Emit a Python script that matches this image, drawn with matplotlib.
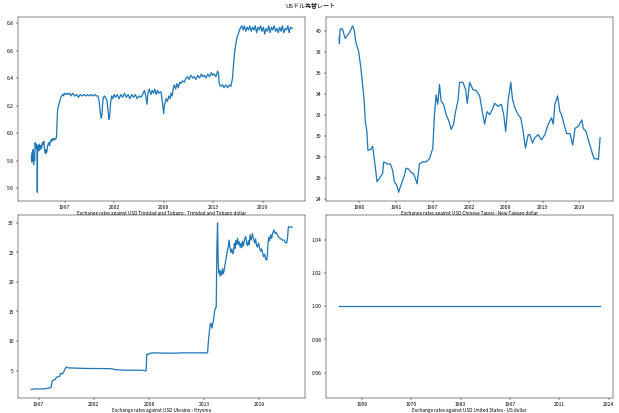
import numpy as np
import pandas as pd
import matplotlib
matplotlib.use("Agg")
import matplotlib.pyplot as plt
import matplotlib.dates as mdates
from matplotlib.ticker import MaxNLocator

plt.rcParams['font.family'] = ['Noto Sans CJK JP', 'DejaVu Sans']

# Trinidad and Tobago dollar (decimal year, rate)
tt_year = [1993.70, 1993.75, 1993.80, 1993.85, 1993.90, 1993.95, 1994.00, 1994.07, 1994.12, 1994.20,
           1994.28, 1994.33, 1994.36, 1994.39, 1994.45, 1994.52, 1994.60, 1994.68, 1994.76, 1994.84,
           1994.92, 1995.00, 1995.08, 1995.16, 1995.24, 1995.32, 1995.40, 1995.48, 1995.56, 1995.64,
           1995.72, 1995.80, 1995.88, 1995.96, 1996.04, 1996.12, 1996.20, 1996.28, 1996.36, 1996.44,
           1996.50, 1996.55, 1996.60, 1996.66, 1996.72, 1996.80, 1996.88, 1996.96, 1997.05, 1997.15,
           1997.25, 1997.35, 1997.50, 1997.65, 1997.80, 1997.95, 1998.10, 1998.30, 1998.50, 1998.70,
           1998.90, 1999.10, 1999.30, 1999.50, 1999.70, 1999.90, 2000.10, 2000.30, 2000.50, 2000.70,
           2000.90, 2001.05, 2001.20, 2001.32, 2001.42, 2001.50, 2001.58, 2001.66, 2001.80, 2001.95,
           2002.05, 2002.15, 2002.28, 2002.36, 2002.46, 2002.58, 2002.70, 2002.85, 2003.00, 2003.20,
           2003.40, 2003.60, 2003.80, 2004.00, 2004.20, 2004.40, 2004.60, 2004.80, 2005.00, 2005.20,
           2005.40, 2005.60, 2005.83, 2006.00, 2006.20, 2006.35, 2006.49, 2006.60, 2006.75, 2006.90,
           2007.05, 2007.20, 2007.35, 2007.50, 2007.65, 2007.80, 2008.04, 2008.20, 2008.33, 2008.40,
           2008.59, 2008.75, 2008.90, 2009.05, 2009.14, 2009.25, 2009.40, 2009.51, 2009.65, 2009.80,
           2009.95, 2010.10, 2010.24, 2010.40, 2010.60, 2010.80, 2010.98, 2011.15, 2011.35, 2011.55,
           2011.71, 2011.90, 2012.10, 2012.30, 2012.50, 2012.65, 2012.82, 2013.00, 2013.20, 2013.40,
           2013.60, 2013.75, 2013.92, 2014.10, 2014.29, 2014.40, 2014.47, 2014.60, 2014.84, 2015.00,
           2015.20, 2015.40, 2015.60, 2015.76, 2015.94, 2016.05, 2016.12, 2016.20, 2016.31, 2016.45,
           2016.57, 2016.78, 2016.95, 2017.10, 2017.25, 2017.40, 2017.55, 2017.70, 2017.85, 2018.00,
           2018.15, 2018.30, 2018.45, 2018.60, 2018.75, 2018.90, 2019.05, 2019.20, 2019.35, 2019.50,
           2019.65, 2019.80, 2019.95, 2020.10, 2020.25, 2020.40, 2020.55, 2020.70, 2020.85, 2021.00,
           2021.15, 2021.30, 2021.45, 2021.60, 2021.75, 2021.90, 2022.05, 2022.20, 2022.35, 2022.55]
tt_rate = [5.83, 5.79, 5.86, 5.80, 5.88, 5.77, 5.84, 5.80, 5.93, 5.89,
           5.92, 5.87, 5.57, 5.88, 5.91, 5.87, 5.92, 5.88, 5.91, 5.89,
           5.93, 5.92, 5.94, 5.88, 5.85, 5.88, 5.86, 5.90, 5.92, 5.93,
           5.91, 5.94, 5.95, 5.94, 5.96, 5.95, 5.96, 5.95, 5.96, 5.96,
           5.99, 6.10, 6.16, 6.19, 6.20, 6.22, 6.24, 6.26, 6.27, 6.28,
           6.27, 6.29, 6.28, 6.29, 6.28, 6.29, 6.27, 6.29, 6.27, 6.28,
           6.26, 6.28, 6.27, 6.28, 6.27, 6.28, 6.27, 6.28, 6.27, 6.28,
           6.27, 6.27, 6.23, 6.15, 6.11, 6.13, 6.21, 6.26, 6.27, 6.25,
           6.24, 6.18, 6.10, 6.12, 6.22, 6.27, 6.25, 6.28, 6.26, 6.28,
           6.25, 6.28, 6.26, 6.29, 6.26, 6.28, 6.25, 6.28, 6.26, 6.28,
           6.25, 6.27, 6.26, 6.28, 6.31, 6.27, 6.21, 6.30, 6.32, 6.28,
           6.31, 6.29, 6.32, 6.28, 6.31, 6.29, 6.30, 6.22, 6.14, 6.20,
           6.25, 6.23, 6.27, 6.25, 6.29, 6.27, 6.33, 6.35, 6.32, 6.36,
           6.33, 6.37, 6.36, 6.38, 6.37, 6.40, 6.41, 6.39, 6.42, 6.40,
           6.41, 6.39, 6.42, 6.40, 6.43, 6.41, 6.42, 6.40, 6.43, 6.41,
           6.44, 6.42, 6.43, 6.41, 6.45, 6.43, 6.36, 6.34, 6.35, 6.33,
           6.35, 6.33, 6.35, 6.34, 6.40, 6.50, 6.55, 6.60, 6.65, 6.70,
           6.72, 6.76, 6.78, 6.75, 6.78, 6.74, 6.77, 6.75, 6.78, 6.74,
           6.77, 6.75, 6.78, 6.73, 6.77, 6.75, 6.78, 6.74, 6.77, 6.72,
           6.76, 6.74, 6.78, 6.73, 6.77, 6.75, 6.78, 6.74, 6.76, 6.73,
           6.77, 6.74, 6.78, 6.73, 6.76, 6.75, 6.78, 6.73, 6.77, 6.76]

# New Taiwan dollar
tw_year = [1983.43, 1983.48, 1983.58, 1983.93, 1984.33, 1984.68, 1985.03, 1985.43, 1985.68, 1985.93,
           1986.33, 1986.68, 1986.93, 1987.18, 1987.33, 1987.58, 1987.73, 1988.18, 1988.43, 1988.68,
           1988.93, 1989.08, 1989.43, 1989.93, 1990.08, 1990.67, 1991.07, 1991.42, 1991.67, 1992.02,
           1992.32, 1992.67, 1993.17, 1993.42, 1993.82, 1994.17, 1994.52, 1994.82, 1995.07, 1995.42,
           1995.92, 1996.42, 1996.92, 1997.41, 1997.66, 1997.91, 1998.16, 1998.41, 1998.66, 1999.01,
           1999.41, 1999.81, 2000.16, 2000.51, 2000.81, 2001.16, 2001.41, 2001.91, 2002.31, 2002.56,
           2002.91, 2003.41, 2003.91, 2004.41, 2004.81, 2005.15, 2005.50, 2005.90, 2006.30, 2006.65,
           2007.15, 2007.65, 2008.00, 2008.30, 2008.65, 2009.05, 2009.30, 2009.65, 2010.15, 2010.55,
           2010.90, 2011.25, 2011.65, 2011.90, 2012.29, 2012.64, 2013.14, 2013.64, 2014.14, 2014.64,
           2015.14, 2015.39, 2015.64, 2016.04, 2016.39, 2016.64, 2016.99, 2017.39, 2017.89, 2018.29,
           2018.64, 2019.14, 2019.39, 2019.64, 2019.88, 2020.28, 2020.63, 2021.13, 2021.48, 2021.88,
           2022.13, 2022.38]
tw_rate = [39.4, 38.8, 40.2, 40.2, 39.3, 39.6, 39.9, 40.5, 40.1, 38.9,
           38.1, 36.5, 34.9, 33.3, 31.4, 30.4, 28.6, 28.7, 29.0, 27.8,
           26.5, 25.6, 25.9, 26.4, 27.5, 27.3, 27.3, 26.7, 25.6, 25.3,
           24.6, 25.3, 26.2, 26.9, 26.8, 26.5, 26.4, 25.9, 25.4, 27.3,
           27.5, 27.5, 27.8, 28.8, 32.0, 33.9, 33.0, 34.9, 33.3, 33.0,
           32.0, 31.4, 30.6, 31.1, 32.3, 33.3, 35.1, 35.1, 34.4, 33.1,
           35.1, 34.4, 34.3, 33.8, 32.3, 31.1, 32.3, 32.0, 32.5, 33.1,
           32.8, 33.0, 32.0, 30.4, 33.3, 35.1, 33.5, 32.7, 32.0, 31.7,
           30.4, 28.8, 30.1, 30.1, 29.3, 29.8, 30.1, 29.6, 30.1, 31.1,
           31.7, 31.1, 33.0, 33.8, 32.3, 32.0, 31.1, 30.2, 30.2, 29.1,
           30.7, 30.9, 31.2, 31.5, 30.7, 30.4, 29.6, 28.5, 27.8, 27.8,
           27.7, 29.8]

# Ukrainian hryvnia
ua_year = [1996.65, 1996.98, 1997.31, 1997.97, 1998.47, 1998.63, 1998.70, 1998.85, 1999.03, 1999.15,
           1999.30, 1999.46, 1999.55, 1999.70, 1999.85, 2000.00, 2000.12, 2000.28, 2001.00, 2001.93,
           2002.80, 2003.58, 2004.50, 2005.23, 2006.20, 2007.21, 2007.71, 2007.90, 2008.04, 2008.10,
           2008.13, 2008.25, 2008.37, 2008.86, 2009.50, 2010.50, 2011.83, 2012.80, 2014.14, 2014.20,
           2014.30, 2014.40, 2014.47, 2014.57, 2014.73, 2014.86, 2015.00, 2015.06, 2015.13, 2015.19,
           2015.25, 2015.33, 2015.40, 2015.46, 2015.55, 2015.62, 2015.70, 2015.79, 2015.87, 2015.95,
           2016.03, 2016.12, 2016.20, 2016.28, 2016.36, 2016.45, 2016.55, 2016.63, 2016.71, 2016.80,
           2016.87, 2016.94, 2017.02, 2017.11, 2017.20, 2017.28, 2017.37, 2017.45, 2017.52, 2017.60,
           2017.70, 2017.80, 2017.93, 2018.02, 2018.10, 2018.20, 2018.28, 2018.36, 2018.45, 2018.52,
           2018.59, 2018.68, 2018.75, 2018.82, 2018.90, 2019.00, 2019.09, 2019.20, 2019.30, 2019.40,
           2019.50, 2019.58, 2019.70, 2019.80, 2019.90, 2020.01, 2020.07, 2020.14, 2020.22, 2020.30,
           2020.41, 2020.50, 2020.60, 2020.74, 2020.85, 2020.95, 2021.07, 2021.15, 2021.25, 2021.40,
           2021.55, 2021.73, 2021.85, 2021.99, 2022.08, 2022.15, 2022.22, 2022.32, 2022.55]
ua_rate = [1.80, 1.88, 1.86, 1.90, 2.05, 2.20, 3.20, 3.40, 3.45, 3.90,
           3.90, 4.00, 4.50, 4.40, 4.70, 5.30, 5.60, 5.45, 5.40, 5.35,
           5.33, 5.33, 5.31, 5.10, 5.05, 5.05, 5.05, 4.95, 4.97, 7.50,
           7.80, 7.70, 7.90, 8.00, 7.95, 7.93, 7.99, 7.99, 7.99, 9.50,
           11.3, 12.8, 13.0, 12.2, 13.6, 15.3, 15.8, 25.4, 30.0, 23.7,
           21.5, 22.0, 21.0, 21.8, 21.2, 22.3, 21.4, 22.0, 23.0, 23.7,
           24.5, 25.4, 26.0, 27.1, 25.8, 25.0, 25.6, 24.8, 25.1, 26.5,
           25.7, 27.0, 26.3, 27.4, 26.4, 26.8, 25.9, 26.5, 25.8, 26.9,
           26.1, 27.2, 27.7, 26.5, 26.2, 27.0, 26.3, 28.0, 27.1, 27.6,
           28.2, 27.4, 27.0, 26.6, 27.3, 26.2, 25.9, 26.6, 25.8, 25.2,
           25.6, 25.1, 24.3, 24.7, 23.9, 23.7, 24.6, 26.6, 27.6, 27.0,
           28.0, 27.4, 28.3, 28.8, 28.2, 28.4, 28.0, 27.7, 27.5, 27.3,
           27.1, 27.1, 26.7, 26.6, 27.6, 29.2, 29.4, 29.3, 29.3]

# US dollar
us_year = [1950.0, 2022.4]
us_rate = [1.0, 1.0]

labels = [
    "Exchange rates against USD Trinidad and Tobago - Trinidad and Tobago dollar",
    "Exchange rates against USD Chinese Taipei - New Taiwan dollar",
    "Exchange rates against USD Ukraine - Hryvnia",
    "Exchange rates against USD United States - US dollar",
]


def to_dates(years):
    years = np.asarray(years, dtype=float)
    whole = np.floor(years).astype(int)
    start = pd.to_datetime([f"{y}-01-01" for y in whole])
    return start + pd.to_timedelta((years - whole) * 365.25, unit="D")


series = [(tt_year, tt_rate), (tw_year, tw_rate), (ua_year, ua_rate), (us_year, us_rate)]

fig, axes = plt.subplots(2, 2, figsize=(15, 10), dpi=41.33)
fig.subplots_adjust(left=0.0295, right=0.989, top=0.957, bottom=0.037, wspace=0.072, hspace=0.077)
fig.suptitle("USドル為替レート", fontsize=10.5, y=0.995)

for ax, (yr, val), lab in zip(axes.flat, series, labels):
    ax.plot(to_dates(yr), val, color="#1f77b4", linewidth=2.2)
    ax.xaxis.set_major_locator(MaxNLocator(nbins=8, steps=[1, 2, 2.5, 5, 10]))
    ax.xaxis.set_major_formatter(mdates.DateFormatter("%Y"))
    ax.set_xlabel(lab, fontsize=8.2, labelpad=2)
    ax.tick_params(labelsize=8.8, length=4, width=0.8)

fig.savefig("out.png", dpi=41.33)
